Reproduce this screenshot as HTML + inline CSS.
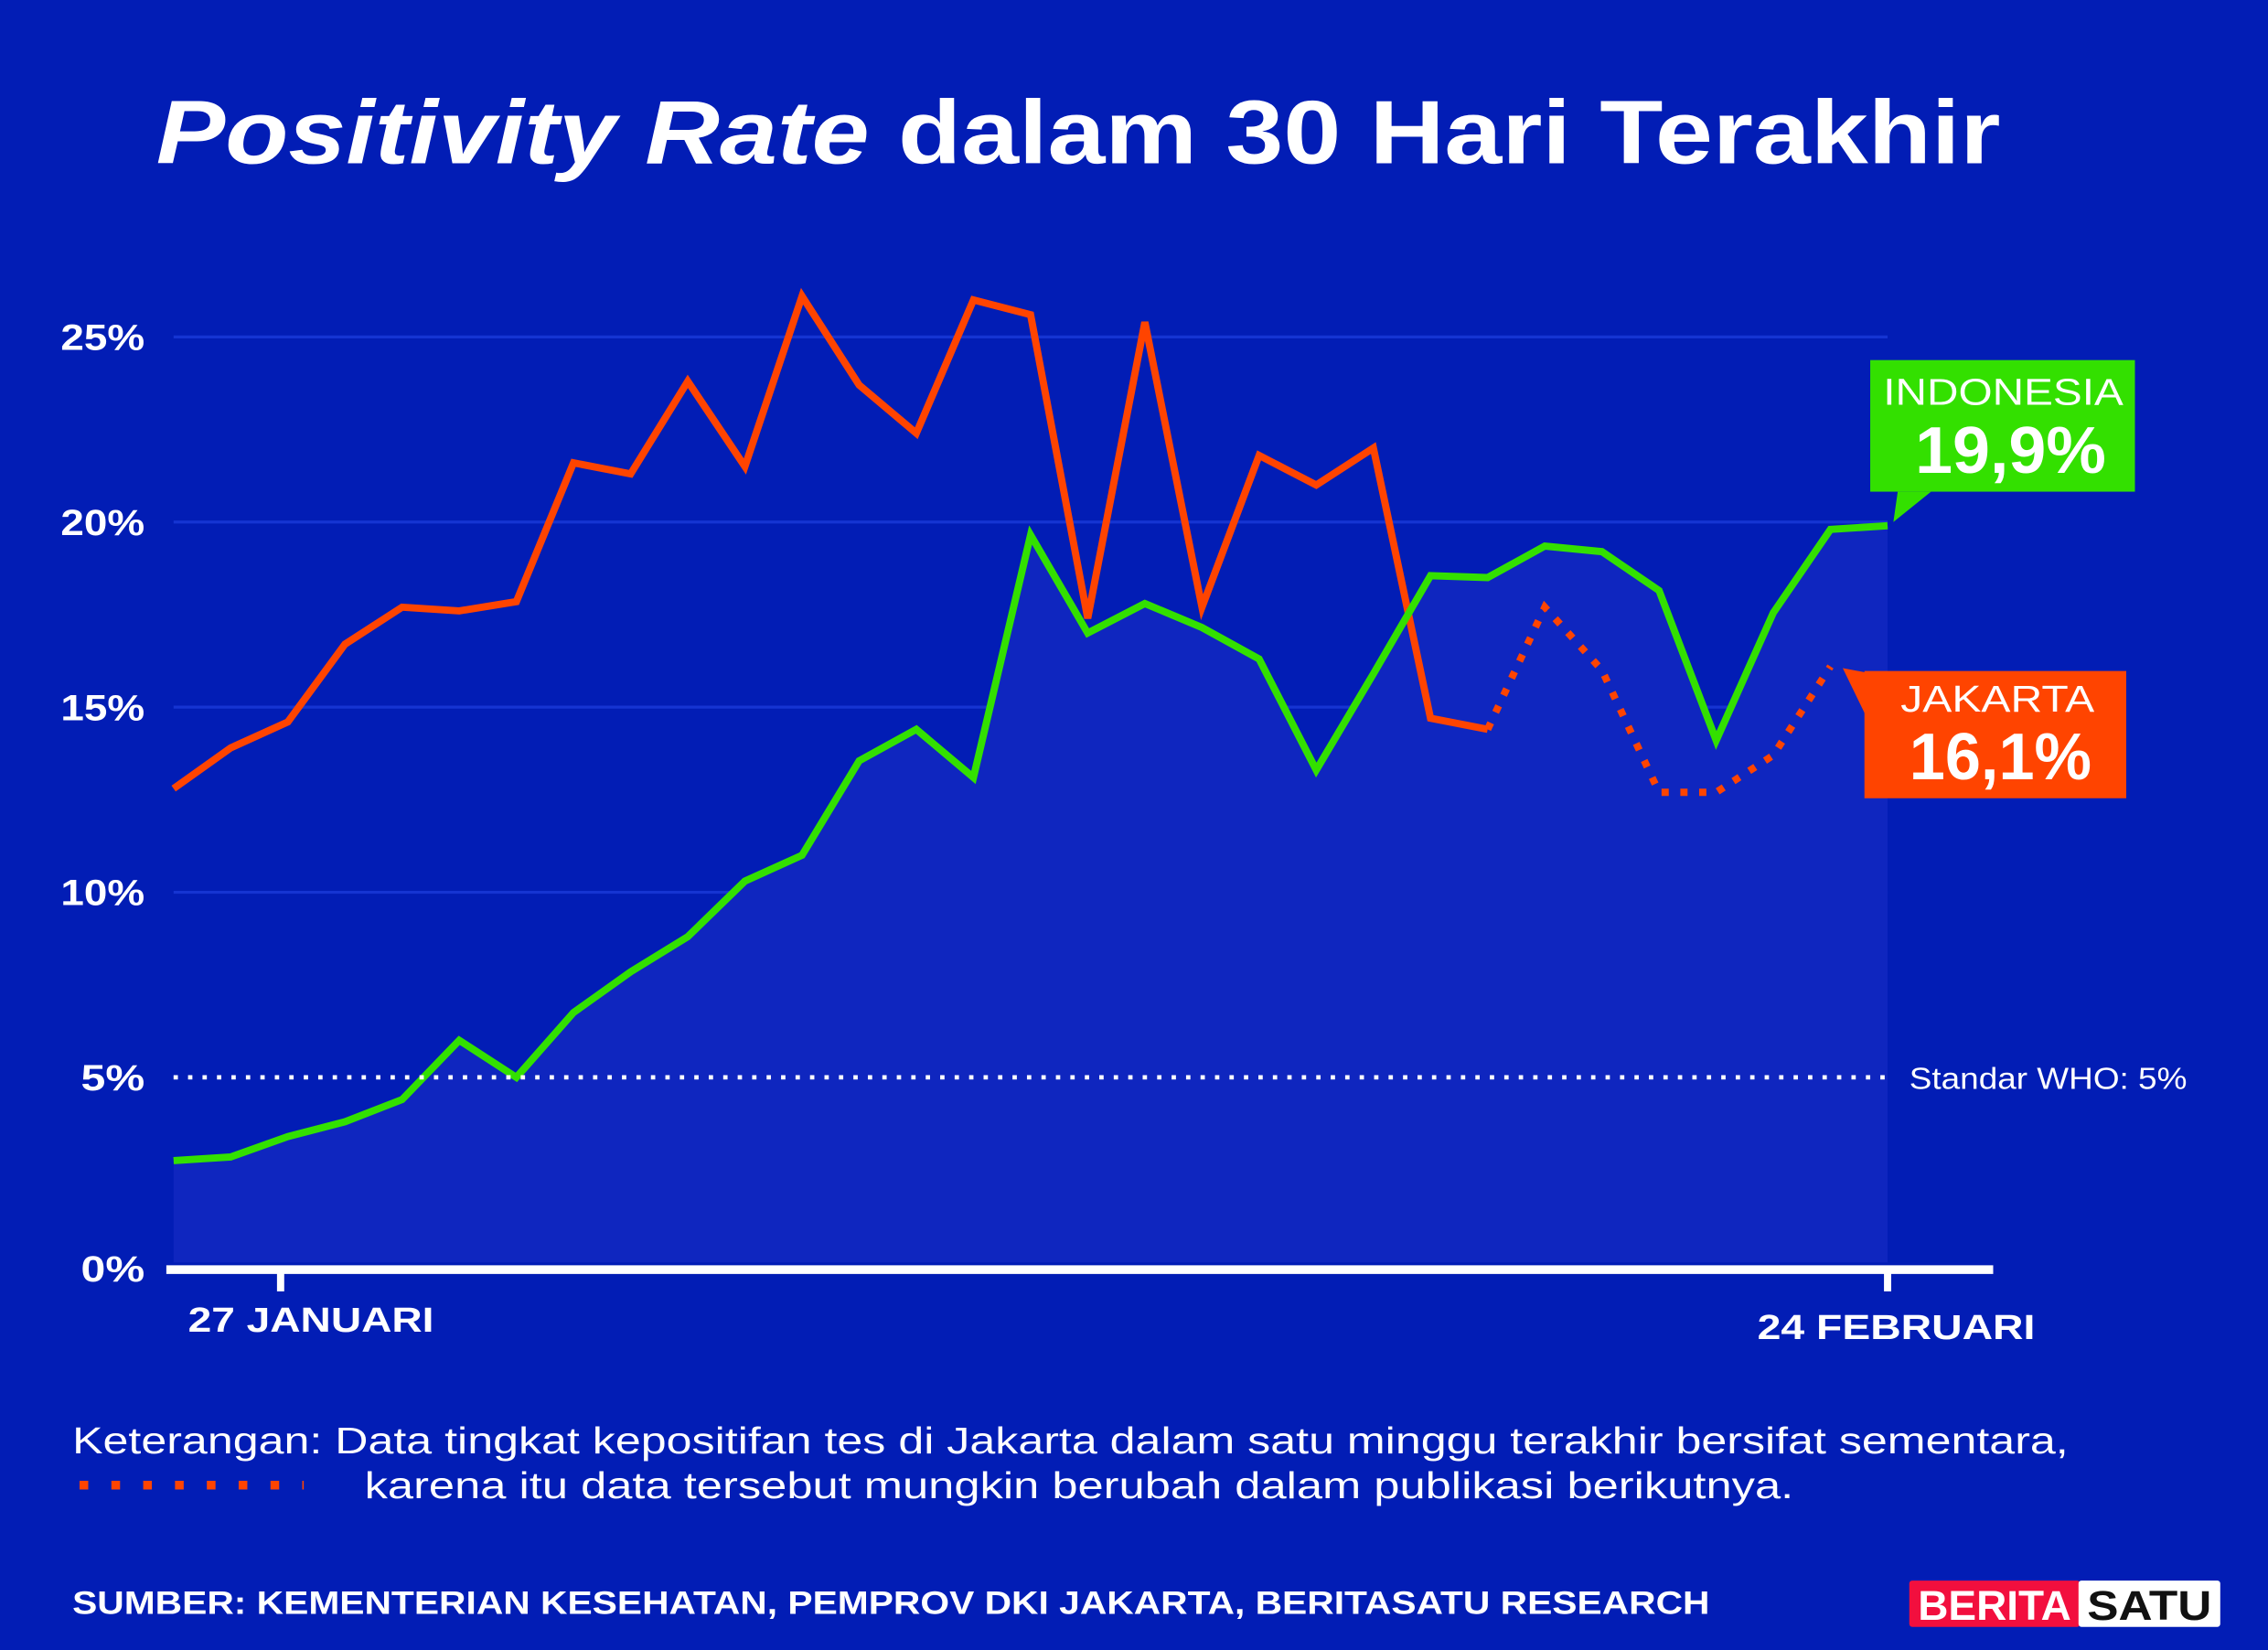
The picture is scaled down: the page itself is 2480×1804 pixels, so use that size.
<!DOCTYPE html>
<html><head><meta charset="utf-8"><style>
html,body{margin:0;padding:0;background:#021db5;}
svg{display:block;}
text{font-family:"Liberation Sans",sans-serif;}
</style></head><body>
<svg id="chart" width="2480" height="1804" viewBox="0 0 1568 1141" preserveAspectRatio="none" xmlns="http://www.w3.org/2000/svg">
<rect x="0" y="0" width="1568" height="1141" fill="#021db5"/>
<text x="108" y="113" font-size="62" font-weight="bold" fill="#fff" textLength="1275" lengthAdjust="spacingAndGlyphs"><tspan font-style="italic">Positivity Rate</tspan> dalam 30 Hari Terakhir</text>
<g id="grid"></g>
<g id="area"></g>
<g id="lines"></g>
<g id="yaxis"></g>
<line x1="120" y1="745" x2="1305" y2="745" stroke="#fff" stroke-width="3" stroke-dasharray="3 7"/>
<text x="1320" y="753" font-size="21" fill="#fff" textLength="192" lengthAdjust="spacingAndGlyphs">Standar WHO: 5%</text>
<line x1="115" y1="878" x2="1378" y2="878" stroke="#fff" stroke-width="6"/>
<line x1="194" y1="878" x2="194" y2="893" stroke="#fff" stroke-width="5"/>
<line x1="1305" y1="878" x2="1305" y2="893" stroke="#fff" stroke-width="5"/>
<text x="130" y="921" font-size="24" font-weight="bold" fill="#fff" textLength="170" lengthAdjust="spacingAndGlyphs">27 JANUARI</text>
<text x="1215" y="926" font-size="24" font-weight="bold" fill="#fff" textLength="192" lengthAdjust="spacingAndGlyphs">24 FEBRUARI</text>
<g>
<rect x="1293" y="249" width="183" height="91" fill="#33e000"/>
<polygon points="1312,340 1335,340 1309,361" fill="#33e000"/>
<text x="1385" y="280" font-size="26" fill="#fff" text-anchor="middle" textLength="166" lengthAdjust="spacingAndGlyphs">INDONESIA</text>
<text x="1390" y="327" font-size="46" font-weight="bold" fill="#fff" text-anchor="middle" textLength="132" lengthAdjust="spacingAndGlyphs">19,9%</text>
</g>
<g>
<rect x="1289" y="464" width="181" height="88" fill="#ff4400"/>
<polygon points="1274,462 1290,465 1290,495" fill="#ff4400"/>
<text x="1381" y="492" font-size="26" fill="#fff" text-anchor="middle" textLength="134" lengthAdjust="spacingAndGlyphs">JAKARTA</text>
<text x="1383" y="539" font-size="46" font-weight="bold" fill="#fff" text-anchor="middle" textLength="126" lengthAdjust="spacingAndGlyphs">16,1%</text>
</g>
<text x="50" y="1005" font-size="26" fill="#fff" textLength="1380" lengthAdjust="spacingAndGlyphs">Keterangan: Data tingkat kepositifan tes di Jakarta dalam satu minggu terakhir bersifat sementara,</text>
<line x1="55" y1="1027" x2="210" y2="1027" stroke="#ff4400" stroke-width="6" stroke-dasharray="6 16"/>
<text x="252" y="1036" font-size="26" fill="#fff" textLength="988" lengthAdjust="spacingAndGlyphs">karena itu data tersebut mungkin berubah dalam publikasi berikutnya.</text>
<text x="50" y="1116" font-size="22" font-weight="bold" fill="#fff" textLength="1132" lengthAdjust="spacingAndGlyphs">SUMBER: KEMENTERIAN KESEHATAN, PEMPROV DKI JAKARTA, BERITASATU RESEARCH</text>
<g>
<rect x="1320" y="1093" width="118" height="32" rx="2" fill="#f20f3e"/>
<rect x="1437" y="1093" width="98" height="32" rx="2" fill="#fff"/>
<text x="1379" y="1120" font-size="29" font-weight="bold" fill="#fff" text-anchor="middle" textLength="106" lengthAdjust="spacingAndGlyphs">BERITA</text>
<text x="1486" y="1120" font-size="29" font-weight="bold" fill="#111" text-anchor="middle" textLength="86" lengthAdjust="spacingAndGlyphs">SATU</text>
</g>
</svg>
<script>
const yTicks = [0, 5, 10, 15, 20, 25];
const jakartaSolid = [12.8,13.9,14.6,16.7,17.7,17.6,17.85,21.6,21.3,23.8,21.5,26.1,23.7,22.4,26.0,25.6,17.4,25.4,17.7,21.8,21.0,22.0,14.7,14.4];
const jakartaProvisional = [14.4,17.7,16.0,12.7,12.7,13.7,16.1];
const indonesia = [2.75,2.85,3.4,3.8,4.4,6.0,5.0,6.75,7.85,8.8,10.3,11.0,13.55,14.4,13.1,19.65,17.0,17.8,17.15,16.3,13.3,15.9,18.55,18.5,19.35,19.2,18.15,14.1,17.55,19.8,19.9];

const NS = 'http://www.w3.org/2000/svg';
const x0 = 120, step = (1305 - 120) / 30;
function xs(i){ return x0 + i * step; }
function ys(v){ return 873 - v * 25.6; }
function mk(tag, attrs, parent){ const e = document.createElementNS(NS, tag); for (const k in attrs) e.setAttribute(k, attrs[k]); document.getElementById(parent).appendChild(e); return e; }

yTicks.forEach(function(t){
  if (t > 0 && t !== 5) {
    const g = mk('line', {x1:120, x2:1305, y1:ys(t), y2:ys(t), stroke:'#1534d2', 'stroke-width':2}, 'grid');
    
    
  }
  const w = String(t).length === 1 ? 44 : 58;
  const lb = mk('text', {x:100, y:ys(t) + (t === 0 ? 13 : 9), 'font-size':25, 'font-weight':'bold', fill:'#fff', 'text-anchor':'end', textLength:w, lengthAdjust:'spacingAndGlyphs'}, 'yaxis');
  lb.textContent = t + '%';
  
  
});

let ap = 'M' + xs(0) + ',' + ys(0);
indonesia.forEach(function(v, i){ ap += ' L' + xs(i) + ',' + ys(v); });
ap += ' L' + xs(indonesia.length - 1) + ',' + ys(0) + ' Z';
const area = mk('path', {d:ap, fill:'#0f26bf'}, 'area');



function pts(arr, off){ return arr.map(function(v, i){ return xs(i + off) + ',' + ys(v); }).join(' '); }
const jl = mk('polyline', {points:pts(jakartaSolid, 0), fill:'none', stroke:'#ff4400', 'stroke-width':5, 'stroke-linejoin':'miter'}, 'lines');


const jd = mk('polyline', {points:pts(jakartaProvisional, jakartaSolid.length - 1), fill:'none', stroke:'#ff4400', 'stroke-width':5, 'stroke-dasharray':'5 8'}, 'lines');


const il = mk('polyline', {points:pts(indonesia, 0), fill:'none', stroke:'#33e000', 'stroke-width':5}, 'lines');


</script>
</body></html>
